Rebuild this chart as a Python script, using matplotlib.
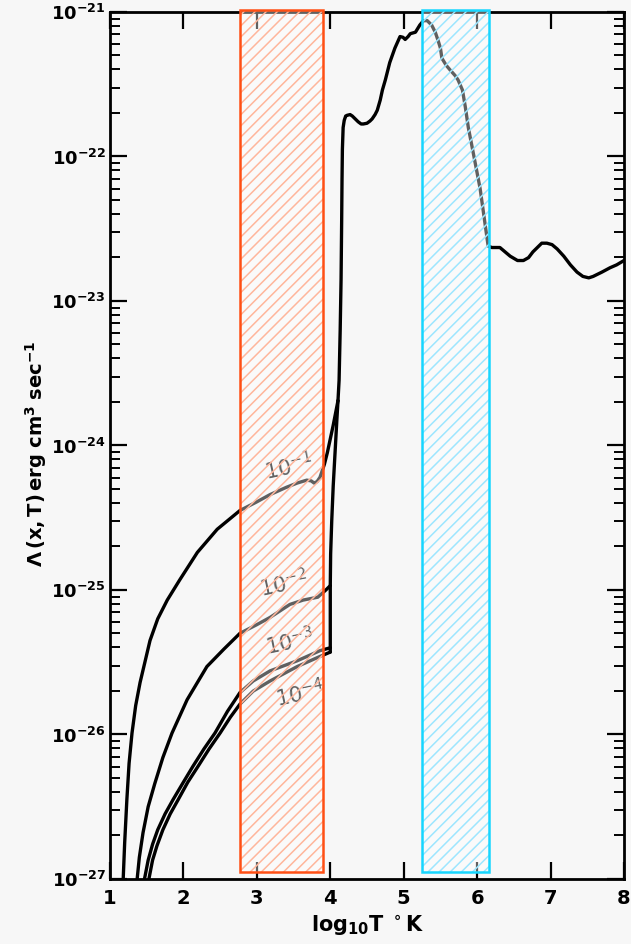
import numpy as np
import matplotlib
matplotlib.use("Agg")
import matplotlib.pyplot as plt
from matplotlib.patches import Rectangle
from matplotlib.ticker import FixedLocator, LogLocator, NullFormatter

# common high-temperature cooling curve (log10 T, log10 Lambda)
logT_hot = [4.105, 4.12, 4.135, 4.147, 4.155, 4.16, 4.165, 4.175, 4.19, 4.21, 4.23,
            4.27, 4.30, 4.34, 4.38, 4.42, 4.45, 4.50, 4.54, 4.57, 4.61, 4.64, 4.68,
            4.71, 4.75, 4.81, 4.88, 4.95, 4.99, 5.02, 5.06, 5.09, 5.16, 5.22, 5.27,
            5.32, 5.38, 5.43, 5.47, 5.50, 5.52, 5.58, 5.63, 5.70, 5.74, 5.80, 5.84,
            5.88, 5.93, 6.04, 6.15, 6.20, 6.31, 6.45, 6.55, 6.63, 6.70, 6.76, 6.88,
            6.95, 7.02, 7.09, 7.18, 7.27, 7.36, 7.44, 7.52, 7.58, 7.70, 7.81, 7.90,
            8.00]
logL_hot = [-23.69, -23.55, -23.20, -22.85, -22.45, -22.16, -21.95, -21.80, -21.75,
            -21.72, -21.715, -21.71, -21.72, -21.74, -21.76, -21.775, -21.775, -21.77,
            -21.755, -21.74, -21.71, -21.68, -21.61, -21.54, -21.47, -21.35, -21.25,
            -21.17, -21.175, -21.19, -21.17, -21.15, -21.14, -21.09, -21.06, -21.06,
            -21.09, -21.14, -21.20, -21.25, -21.32, -21.37, -21.40, -21.44, -21.47,
            -21.54, -21.66, -21.80, -21.93, -22.22, -22.62, -22.63, -22.63, -22.69,
            -22.72, -22.72, -22.70, -22.66, -22.60, -22.60, -22.61, -22.64, -22.69,
            -22.75, -22.80, -22.83, -22.84, -22.83, -22.80, -22.77, -22.75, -22.72]

# shared steep rise near 10^4 K for the three lowest ionisation fractions
logT_rise = [4.00, 4.00, 4.005, 4.02, 4.04, 4.065, 4.09, 4.105]
logL_rise = [-25.43, -24.97, -24.75, -24.52, -24.28, -24.05, -23.82, -23.69]

# low-temperature branches, one per ionisation fraction x
logT_x1 = [1.17, 1.18, 1.20, 1.23, 1.26, 1.30, 1.35, 1.41, 1.48, 1.545, 1.65, 1.78,
           1.95, 2.19, 2.46, 2.77, 3.00, 3.18, 3.40, 3.55, 3.68, 3.74, 3.78, 3.82,
           3.86, 3.92, 3.96, 4.04, 4.105]
logL_x1 = [-27.2, -27.0, -26.75, -26.45, -26.20, -25.99, -25.80, -25.64, -25.49,
           -25.35, -25.20, -25.07, -24.93, -24.74, -24.58, -24.45, -24.39, -24.34,
           -24.29, -24.26, -24.24, -24.245, -24.26, -24.25, -24.22, -24.13, -24.05,
           -23.86, -23.69]
logT_x2 = [1.36, 1.37, 1.40, 1.45, 1.52, 1.61, 1.72, 1.845, 2.05, 2.32, 2.55, 2.77,
           3.00, 3.18, 3.45, 3.63, 3.83, 3.94, 4.00]
logL_x2 = [-27.2, -27.0, -26.85, -26.68, -26.50, -26.34, -26.16, -25.99, -25.76,
           -25.53, -25.41, -25.30, -25.24, -25.19, -25.10, -25.07, -25.05, -25.00,
           -24.97]
logT_x3 = [1.46, 1.47, 1.52, 1.58, 1.65, 1.75, 1.86, 2.00, 2.13, 2.28, 2.43, 2.60,
           2.77, 2.95, 3.18, 3.55, 3.86, 4.00]
logL_x3 = [-27.2, -27.0, -26.87, -26.76, -26.66, -26.55, -26.45, -26.33, -26.22,
           -26.10, -25.99, -25.84, -25.71, -25.63, -25.56, -25.49, -25.42, -25.40]
logT_x4 = [1.52, 1.53, 1.58, 1.64, 1.72, 1.82, 1.93, 2.06, 2.20, 2.35, 2.50, 2.64,
           2.77, 2.95, 3.18, 3.55, 3.86, 4.00]
logL_x4 = [-27.2, -27.0, -26.87, -26.77, -26.66, -26.55, -26.45, -26.33, -26.22,
           -26.10, -25.99, -25.88, -25.79, -25.70, -25.63, -25.53, -25.46, -25.43]

branch_labels = [r"$10^{-1}$", r"$10^{-2}$", r"$10^{-3}$", r"$10^{-4}$"]
label_T = [3.43, 3.37, 3.45, 3.59]
label_L = [-24.15, -24.96, -25.36, -25.72]

# temperature bands highlighted on the plot
band_T = [(2.77, 3.90), (5.25, 6.16)]
band_edge = ["#ff4f14", "#16d6ff"]
band_hatch = ["#ffb69c", "#9de6ff"]

x_ticks = [1, 2, 3, 4, 5, 6, 7, 8]
y_decades = [-27, -26, -25, -24, -23, -22, -21]

plt.rcParams["hatch.linewidth"] = 1.1
bg = "#f7f7f7"
fig = plt.figure(figsize=(6.31, 9.44), dpi=100, facecolor=bg)
ax = fig.add_axes([0.1743, 0.0689, 0.8146, 0.9184])
ax.set_facecolor(bg)

line_kw = dict(color="black", lw=2.4, solid_joinstyle="round", solid_capstyle="round", zorder=2)
ax.plot(logT_hot, 10.0 ** np.array(logL_hot), **line_kw)
ax.plot(logT_rise, 10.0 ** np.array(logL_rise), **line_kw)
for xs, ys in [(logT_x1, logL_x1), (logT_x2, logL_x2), (logT_x3, logL_x3), (logT_x4, logL_x4)]:
    ax.plot(xs, 10.0 ** np.array(ys), **line_kw)

for lab, tx, ly in zip(branch_labels, label_T, label_L):
    ax.text(tx, 10.0 ** ly, lab, fontsize=15, rotation=12, ha="center", va="center",
            color="black", zorder=2)

ax.set_yscale("log")
ax.set_xlim(1, 8)
ax.set_ylim(1e-27, 1e-21)

# hatched bands sit above the curves and wash them out a little
y0, y1 = 10.0 ** -26.95, 10.0 ** -20.985
for (t0, t1), ec, hc in zip(band_T, band_edge, band_hatch):
    ax.add_patch(Rectangle((t0, y0), t1 - t0, y1 - y0, facecolor=(1, 1, 1, 0.38),
                           edgecolor=hc, lw=0, hatch="///", zorder=3, clip_on=False))
    ax.add_patch(Rectangle((t0, y0), t1 - t0, y1 - y0, facecolor="none",
                           edgecolor=ec, lw=1.8, zorder=4, clip_on=False))

ax.xaxis.set_major_locator(FixedLocator(x_ticks))
ax.set_xticklabels([str(t) for t in x_ticks])
ax.yaxis.set_major_locator(FixedLocator([10.0 ** d for d in y_decades]))
ax.set_yticklabels([r"$\mathbf{10^{%d}}$" % d for d in y_decades])
ax.yaxis.set_minor_locator(LogLocator(base=10, subs=np.arange(2, 10), numticks=20))
ax.yaxis.set_minor_formatter(NullFormatter())

ax.tick_params(axis="both", which="major", direction="in", length=12, width=1.6,
               top=True, right=True, labelsize=14, pad=7)
ax.tick_params(axis="y", which="minor", direction="in", length=7, width=1.4,
               left=True, right=True)
ax.tick_params(axis="y", which="major", pad=3, labelsize=13)
for lbl in ax.get_xticklabels():
    lbl.set_fontweight("bold")
for sp in ax.spines.values():
    sp.set_linewidth(2.0)

ax.set_xlabel(r"$\mathbf{log_{10}T}$ $\mathbf{{}^\circ K}$", fontsize=15, labelpad=4)
ax.set_ylabel(r"$\mathbf{\Lambda\,(x,T)\,erg\ cm^{3}\ sec^{-1}}$", fontsize=14, labelpad=8)
ax.yaxis.set_label_coords(-0.118, 0.49)

fig.savefig("out.png", dpi=100, facecolor=bg)
